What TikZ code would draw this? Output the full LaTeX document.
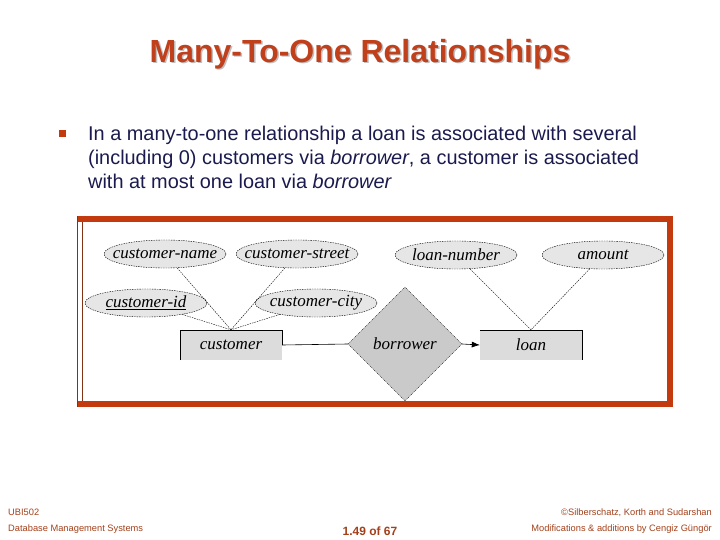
\documentclass[tikz,border=0pt]{standalone}
\usepackage{fontspec}
\setsansfont{Liberation Sans}
\newfontfamily\erfont{Liberation Serif}
\usepackage{xcolor}
\usetikzlibrary{positioning,shapes.geometric,arrows.meta}

\definecolor{titlered}{HTML}{C0401C}
\definecolor{framered}{HTML}{C33A0E}
\definecolor{bodyblue}{HTML}{1A1A4E}
\definecolor{footbrown}{HTML}{A3401A}
\definecolor{attrgray}{HTML}{E6E6E6}
\definecolor{entgray}{HTML}{DCDCDC}
\definecolor{relgray}{HTML}{CACACA}

% label of fixed-size shapes: no width of its own
\newcommand{\erlabel}[1]{\makebox[0pt]{#1}}

\tikzset{
  attr/.style={ellipse, draw, dash pattern=on 1.5pt off 1pt, thin, fill=attrgray,
    minimum width=122pt, minimum height=28pt, inner sep=0pt, font=\erfont\fontsize{17}{17}\selectfont\itshape},
  ent/.style={rectangle, fill=entgray, minimum width=102pt, minimum height=30pt,
    inner sep=0pt, font=\erfont\fontsize{17}{17}\selectfont\itshape},
  rel/.style={diamond, draw, dash pattern=on 1pt off 1pt, thin, fill=relgray,
    minimum width=114pt, minimum height=114pt, inner sep=0pt, font=\erfont\fontsize{17}{17}\selectfont\itshape},
  attrline/.style={thin, dash pattern=on 1.5pt off 1pt},
  bodytext/.style={anchor=base west, inner sep=0pt, font=\sffamily\fontsize{19.9}{19.9}\selectfont, text=bodyblue},
  foot/.style={font=\sffamily\fontsize{9.3}{9.3}\selectfont, text=footbrown, inner sep=0pt}
}

\begin{document}
\begin{tikzpicture}[x=1pt,y=-1pt]
\useasboundingbox (0,0) rectangle (720,540);

% title with shadow
\node[font=\sffamily\bfseries\fontsize{32}{32}\selectfont, text=black!25] at (361.5,55.5) {Many-To-One Relationships};
\node(title)[font=\sffamily\bfseries\fontsize{32}{32}\selectfont, text=titlered] at (360,54) {Many-To-One Relationships};

% bullet text
\fill[framered] (59,130) rectangle (66,137);
\node(line1)[bodytext] at (88,141) {In a many-to-one relationship a loan is associated with several};
\node(line2)[bodytext] at (88,165) {(including 0) customers via \textit{borrower}, a customer is associated};
\node(line3)[bodytext] at (88,189) {with at most one loan via \textit{borrower}};

% frame
\draw[framered, line width=6pt] (77,219) -- (670,219) -- (670,404) -- (77,404);
\draw[footbrown!80!black, line width=0.8pt] (77,216) -- (77,407);
\draw[footbrown!80!black, line width=0.8pt] (82,222) -- (82,401);

% entities and relationship
\node(customer)[ent] at (231,345) {customer};
\draw[thin] (customer.south west) -- (customer.north west) -- (customer.north east) -- ++(0,15);
\node(loan)[ent] at (531,345) {loan};
\draw[thin] (loan.north west) -- (loan.north east) -- (loan.south east);
\node(borrower)[rel] at (405,344) {\erlabel{borrower}};

% attributes
\node(cname)[attr] at (165,254) {\erlabel{customer-name}};
\node(cstreet)[attr] at (297,254) {\erlabel{customer-street}};
\node(cid)[attr] at (146,303) {\erlabel{\underline{customer-id}}};
\node(ccity)[attr] at (316,303) {\erlabel{customer-city}};
\node(lnumber)[attr] at (456,255) {\erlabel{loan-number}};
\node(amount)[attr] at (603,255) {\erlabel{amount}};

\draw[attrline] (cname) -- (customer.north);
\draw[attrline] (cstreet) -- (customer.north);
\draw[attrline] (cid) -- (customer.north);
\draw[attrline] (ccity) -- (customer.north);
\draw[attrline] (lnumber) -- (loan.north);
\draw[attrline] (amount) -- (loan.north);

\draw[semithick] (customer.east) -- (borrower.west);
\draw[semithick, -{Latex[length=8pt,width=6pt]}] (borrower.east) -- (loan.west);

% footer
\node(ubi)[foot, anchor=base west] at (8,515) {UBI502};
\node(dbms)[foot, anchor=base west] at (8,531) {Database Management Systems};
\node(page)[font=\sffamily\bfseries\fontsize{12}{12}\selectfont, text=footbrown, inner sep=0pt, anchor=base] at (370,535) {1.49 of 67};
\node(copy)[foot, anchor=base east] at (712,515) {\textcopyright Silberschatz, Korth and Sudarshan};
\node(mods)[foot, anchor=base east] at (712,531) {Modifications \& additions by Cengiz Güngör};
\end{tikzpicture}
\end{document}
